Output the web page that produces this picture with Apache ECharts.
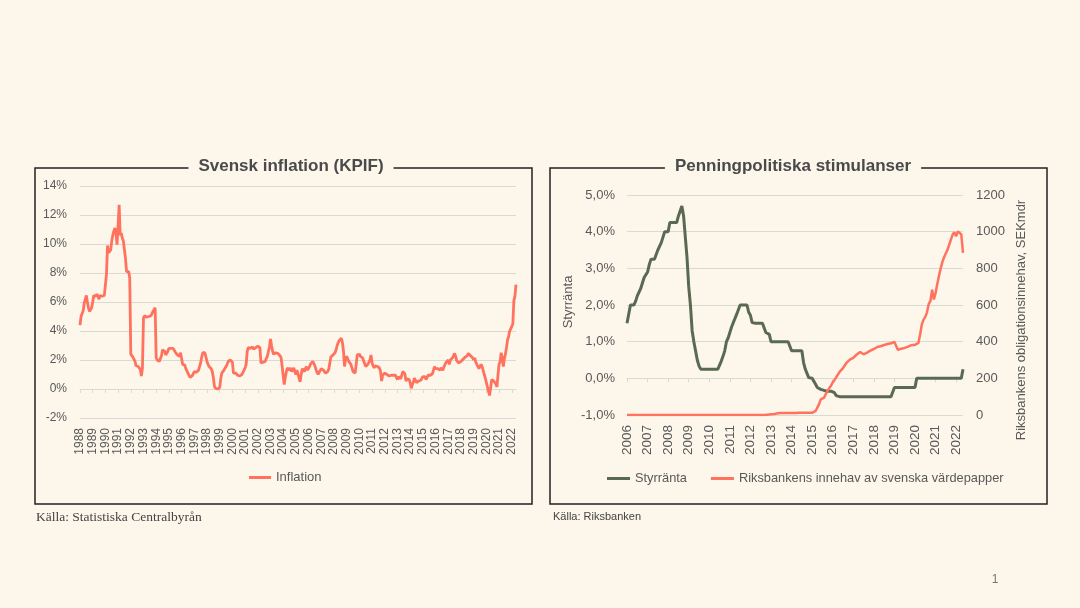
<!DOCTYPE html>
<html>
<head>
<meta charset="utf-8">
<script src="https://cdn.jsdelivr.net/npm/echarts@6/dist/echarts.min.js"></script>
<style>
html,body{margin:0;padding:0;background:#FCF6EB;}
#c{width:1080px;height:608px;}
</style>
</head>
<body>
<div id="c"></div>
<script>
// ---------- Left chart: Svensk inflation (KPIF), monthly from Jan 1988 ----------
const inflationStartYear = 1988;
const inflationMonthly = [
  4.4, 5.0, 5.2, 5.4, 5.9, 6.2, 6.45, 6.0, 5.6, 5.35, 5.45, 5.6,        // 1988
  6.0, 6.45, 6.4, 6.4, 6.55, 6.6, 6.2, 6.45, 6.4, 6.4, 6.4, 6.45,       // 1989
  6.5, 7.9, 9.9, 9.4, 9.5, 9.6, 10.2, 10.6, 10.9, 11.1, 10.75, 9.95,    // 1990
  11.3, 12.7, 10.6, 10.75, 10.4, 10.2, 10.1, 9.0, 8.1, 8.0, 8.1, 7.65,  // 1991
  2.4, 2.35, 2.2, 2.15, 1.9, 1.6, 1.55, 1.55, 1.5, 1.35, 0.9, 1.45,     // 1992
  4.9, 5.05, 5.1, 4.95, 5.0, 5.0, 4.95, 5.05, 5.1, 5.35, 5.45, 5.6,     // 1993
  2.15, 2.0, 2.0, 1.9, 2.1, 2.3, 2.7, 2.8, 2.6, 2.35, 2.45, 2.6,        // 1994
  2.8, 2.85, 2.8, 2.85, 2.8, 2.7, 2.55, 2.45, 2.35, 2.3, 2.25, 2.5,     // 1995
  2.4, 1.7, 1.75, 1.65, 1.4, 1.3, 1.1, 1.0, 0.8, 0.75, 0.9, 0.85,       // 1996
  1.2, 1.1, 1.15, 1.1, 1.3, 1.4, 1.8, 2.2, 2.5, 2.5, 2.5, 2.4,          // 1997
  1.9, 1.7, 1.55, 1.5, 1.4, 1.2, 0.8, 0.2, 0.05, 0.1, 0.0, 0.05,        // 1998
  0.1, 0.7, 1.1, 1.2, 1.3, 1.4, 1.55, 1.7, 1.9, 1.95, 2.0, 1.95,        // 1999
  1.85, 1.1, 1.2, 1.1, 1.0, 0.95, 0.9, 0.9, 0.9, 1.0, 1.1, 1.3,         // 2000
  1.45, 1.7, 2.6, 2.85, 2.9, 2.8, 2.75, 2.9, 2.75, 2.75, 2.85, 2.9,     // 2001
  2.95, 2.9, 2.85, 1.8, 1.8, 1.85, 1.8, 1.9, 2.1, 2.25, 2.35, 2.9,      // 2002
  3.45, 3.0, 2.6, 2.4, 2.35, 2.5, 2.55, 2.45, 2.35, 2.3, 2.15, 1.6,     // 2003
  0.9, 0.3, 0.8, 1.2, 1.45, 1.35, 1.3, 1.45, 1.2, 1.3, 1.45, 1.2,       // 2004
  1.0, 1.3, 1.3, 0.75, 0.5, 1.0, 1.4, 1.4, 1.2, 1.4, 1.55, 1.3,         // 2005
  1.4, 1.55, 1.75, 1.85, 1.9, 1.8, 1.6, 1.35, 1.15, 1.0, 1.15, 1.25,    // 2006
  1.4, 1.35, 1.3, 1.2, 1.1, 1.0, 1.2, 1.35, 1.75, 2.2, 2.3, 2.35,       // 2007
  2.45, 2.5, 2.7, 3.0, 3.2, 3.35, 3.4, 3.5, 3.2, 2.6, 1.55, 2.1,        // 2008
  2.25, 2.35, 1.9, 1.8, 1.7, 1.45, 1.2, 1.15, 1.1, 1.7, 2.35, 2.45,     // 2009
  2.4, 2.25, 2.2, 2.15, 1.95, 1.85, 1.55, 1.6, 1.7, 1.85, 2.0, 2.35,    // 2010
  1.8, 1.6, 1.45, 1.6, 1.7, 1.55, 1.5, 1.45, 1.2, 0.55, 0.95, 1.05,     // 2011
  1.1, 1.1, 1.0, 1.0, 0.9, 0.95, 0.95, 1.0, 0.95, 0.85, 0.95, 1.0,      // 2012
  0.65, 0.85, 0.9, 0.7, 0.65, 1.2, 1.1, 1.05, 0.55, 0.7, 0.75, 0.65,    // 2013
  0.45, 0.05, 0.3, 0.45, 0.75, 0.6, 0.45, 0.5, 0.55, 0.65, 0.6, 0.55,   // 2014
  0.85, 0.9, 0.85, 0.65, 0.8, 0.95, 1.0, 0.95, 0.9, 1.05, 1.1, 1.55,    // 2015
  1.4, 1.3, 1.4, 1.45, 1.3, 1.45, 1.4, 1.3, 1.55, 1.55, 1.85, 1.9,      // 2016
  2.0, 1.7, 2.0, 2.0, 2.15, 2.3, 2.45, 2.25, 1.95, 1.85, 1.8, 1.9,      // 2017
  1.9, 2.0, 2.05, 2.05, 2.2, 2.25, 2.3, 2.45, 2.5, 2.3, 2.2, 2.15,      // 2018
  2.0, 2.15, 1.85, 1.7, 1.55, 1.4, 1.4, 1.7, 1.55, 1.45, 1.0, 0.75,     // 2019
  0.45, 0.15, 0.05, -0.45, 0.05, 0.65, 0.6, 0.55, 0.45, 0.35, 0.15, 1.0, // 2020
  1.7, 1.9, 2.5, 2.1, 1.55, 2.1, 2.4, 2.85, 3.4, 3.6, 4.0, 4.15,        // 2021
  4.3, 4.5, 6.1, 6.4, 7.2                                              // 2022
];
const inflationYearLabels = [1988,1989,1990,1991,1992,1993,1994,1995,1996,1997,1998,1999,2000,2001,2002,2003,2004,2005,2006,2007,2008,2009,2010,2011,2012,2013,2014,2015,2016,2017,2018,2019,2020,2021,2022];

// ---------- Right chart: Penningpolitiska stimulanser, monthly from Jan 2006 ----------
const policyStartYear = 2006;
const repoRateMonthly = [
  1.5, 1.75, 2.0, 2.0, 2.0, 2.1, 2.25, 2.25, 2.45, 2.5, 2.75, 2.8,      // 2006
  2.9, 3.1, 3.25, 3.25, 3.25, 3.3, 3.5, 3.55, 3.7, 3.75, 4.0, 4.0,      // 2007
  4.0, 4.25, 4.25, 4.25, 4.25, 4.25, 4.43, 4.45, 4.7, 4.43, 4.43, 3.3,  // 2008
  2.5, 2.0, 1.3, 1.0, 0.75, 0.5, 0.34, 0.25, 0.25, 0.25, 0.25, 0.25,    // 2009
  0.25, 0.25, 0.25, 0.25, 0.25, 0.25, 0.25, 0.47, 0.6, 0.75, 1.0, 1.1,  // 2010
  1.25, 1.4, 1.52, 1.52, 1.75, 1.75, 2.0, 2.0, 2.0, 2.0, 2.0, 1.8,      // 2011
  1.72, 1.52, 1.5, 1.5, 1.5, 1.5, 1.5, 1.5, 1.5, 1.25, 1.25, 1.2,       // 2012
  1.0, 1.0, 1.0, 1.0, 1.0, 1.0, 1.0, 1.0, 1.0, 1.0, 1.0, 1.0,           // 2013
  0.75, 0.75, 0.75, 0.75, 0.75, 0.75, 0.75, 0.43, 0.25, 0.25, 0.02, 0.0, // 2014
  0.0, -0.05, -0.16, -0.25, -0.28, -0.3, -0.3, -0.33, -0.35, -0.35, -0.35, -0.35, // 2015
  -0.35, -0.39, -0.47, -0.5, -0.5, -0.5, -0.5, -0.5, -0.5, -0.5, -0.5, -0.5,     // 2016
  -0.5, -0.5, -0.5, -0.5, -0.5, -0.5, -0.5, -0.5, -0.5, -0.5, -0.5, -0.5,        // 2017
  -0.5, -0.5, -0.5, -0.5, -0.5, -0.5, -0.5, -0.5, -0.5, -0.5, -0.5, -0.5,        // 2018
  -0.25, -0.25, -0.25, -0.25, -0.25, -0.25, -0.25, -0.25, -0.25, -0.25, -0.25, -0.25, // 2019
  -0.25, 0.0, 0.0, 0.0, 0.0, 0.0, 0.0, 0.0, 0.0, 0.0, 0.0, 0.0,          // 2020
  0.0, 0.0, 0.0, 0.0, 0.0, 0.0, 0.0, 0.0, 0.0, 0.0, 0.0, 0.0,            // 2021
  0.0, 0.0, 0.0, 0.0, 0.25                                               // 2022
];
const holdingsMonthly = [
  0, 0, 0, 0, 0, 0, 0, 0, 0, 0, 0, 0,             // 2006
  0, 0, 0, 0, 0, 0, 0, 0, 0, 0, 0, 0,             // 2007
  0, 0, 0, 0, 0, 0, 0, 0, 0, 0, 0, 0,             // 2008
  0, 0, 0, 0, 0, 0, 0, 0, 0, 0, 0, 0,             // 2009
  0, 0, 0, 0, 0, 0, 0, 0, 0, 0, 0, 0,             // 2010
  0, 0, 0, 0, 0, 0, 0, 0, 0, 0, 0, 0,             // 2011
  0, 0, 0, 0, 0, 0, 0, 0, 0, 1, 2, 3,             // 2012
  4, 5, 6, 8, 9, 10, 11, 11, 11, 11, 11, 11,      // 2013
  11, 11, 11, 11, 12, 12, 12, 12, 12, 12, 12, 12, // 2014
  12, 12, 22, 40, 58, 85, 90, 95, 115, 132, 147, 160,       // 2015
  178, 190, 205, 220, 235, 245, 256, 270, 284, 293, 302, 308, // 2016
  312, 322, 330, 338, 344, 351, 331, 335, 340, 346, 351, 356, // 2017
  360, 366, 371, 373, 375, 378, 382, 384, 387, 389, 391, 394, // 2018
  398, 405, 356, 359, 361, 363, 366, 369, 373, 378, 381, 384, // 2019
  383, 385, 393, 440, 495, 520, 535, 560, 605, 622, 684, 630, // 2020
  665, 715, 760, 800, 835, 862, 882, 902, 930, 958, 985, 996, // 2021
  975, 1002, 1011, 985, 884                                   // 2022
];
const policyYearLabels = [2006,2007,2008,2009,2010,2011,2012,2013,2014,2015,2016,2017,2018,2019,2020,2021,2022];

// ---------- build ----------
const BG = '#FCF6EB';
const TXT = '#595959';
const GRIDC = '#dbd9d4';
const RED = '#FF735E';
const GREEN = '#5A6A52';
const FONT = '"Liberation Sans", Arial, sans-serif';

const toXY = (arr, start) => arr.map((v, i) => [start + i / 12, v]);
const inflMax = inflationStartYear + (inflationMonthly.length - 1) / 12;
const polMax = policyStartYear + (repoRateMonthly.length - 1) / 12;

const chart = echarts.init(document.getElementById('c'), null, {renderer: 'canvas'});

const labelAxis = (grid, min, max, years, size) => ({
  gridIndex: grid, type: 'value', min: min, max: max, position: 'bottom',
  axisLine: {show: false, onZero: false}, axisTick: {show: false}, splitLine: {show: false},
  axisLabel: {customValues: years, rotate: 90, margin: 10, fontSize: size, color: TXT, fontFamily: FONT,
    formatter: v => String(Math.round(v))}
});
const zeroAxis = (grid, min, max, years, yIdx) => ({
  gridIndex: grid, type: 'value', min: min, max: max, position: 'bottom',
  axisLine: {show: true, onZero: true, onZeroAxisIndex: yIdx, lineStyle: {color: GRIDC, width: 1}},
  axisTick: {show: true, customValues: years, length: 4, lineStyle: {color: GRIDC}},
  axisLabel: {show: false}, splitLine: {show: false}
});

const option = {
  backgroundColor: BG,
  animation: false,
  textStyle: {fontFamily: FONT},
  grid: [
    {left: 80, top: 186, width: 436, height: 232},
    {left: 627, top: 195, width: 336, height: 220}
  ],
  xAxis: [
    labelAxis(0, inflationStartYear, inflMax, inflationYearLabels, 12),
    zeroAxis(0, inflationStartYear, inflMax, inflationYearLabels, 0),
    labelAxis(1, policyStartYear, polMax, policyYearLabels, 13.5),
    zeroAxis(1, policyStartYear, polMax, policyYearLabels, 1)
  ],
  yAxis: [
    {gridIndex: 0, type: 'value', min: -2, max: 14, interval: 2,
     axisLine: {show: false}, axisTick: {show: false},
     splitLine: {lineStyle: {color: GRIDC, width: 1}},
     axisLabel: {formatter: '{value}%', fontSize: 12, color: TXT, margin: 13}},
    {gridIndex: 1, type: 'value', min: -1, max: 5, interval: 1,
     axisLine: {show: false}, axisTick: {show: false},
     splitLine: {lineStyle: {color: GRIDC, width: 1}},
     axisLabel: {formatter: v => v.toFixed(1).replace('.', ',') + '%', fontSize: 13, color: TXT, margin: 12}},
    {gridIndex: 1, type: 'value', position: 'right', min: 0, max: 1200, interval: 200,
     axisLine: {show: false}, axisTick: {show: false}, splitLine: {show: false},
     axisLabel: {formatter: v => String(v), fontSize: 13, color: TXT, margin: 13}}
  ],
  legend: [
    {data: ['Inflation'], left: 249, top: 471, icon: 'rect', itemWidth: 22, itemHeight: 3,
     textStyle: {fontSize: 13, color: TXT}, padding: 0},
    {data: ['Styrränta', 'Riksbankens innehav av svenska värdepapper'], left: 607, top: 472,
     icon: 'rect', itemWidth: 23, itemHeight: 3, itemGap: 24,
     textStyle: {fontSize: 12.8, color: TXT}, padding: 0}
  ],
  series: [
    {name: 'Inflation', type: 'line', xAxisIndex: 0, yAxisIndex: 0, data: toXY(inflationMonthly, inflationStartYear),
     showSymbol: false, symbol: 'none', lineStyle: {color: RED, width: 2.8}, itemStyle: {color: RED}},
    {name: 'Styrränta', type: 'line', xAxisIndex: 2, yAxisIndex: 1, data: toXY(repoRateMonthly, policyStartYear),
     showSymbol: false, symbol: 'none', lineStyle: {color: GREEN, width: 3}, itemStyle: {color: GREEN}},
    {name: 'Riksbankens innehav av svenska värdepapper', type: 'line', xAxisIndex: 2, yAxisIndex: 2,
     data: toXY(holdingsMonthly, policyStartYear),
     showSymbol: false, symbol: 'none', lineStyle: {color: RED, width: 2.5}, itemStyle: {color: RED}}
  ],
  graphic: [
    {type: 'rect', shape: {x: 35, y: 168, width: 497, height: 336}, style: {fill: null, stroke: '#222', lineWidth: 1.5}, z: 1},
    {type: 'rect', shape: {x: 550, y: 168, width: 497, height: 336}, style: {fill: null, stroke: '#222', lineWidth: 1.5}, z: 1},
    {type: 'text', x: 291, y: 166, z: 5, style: {text: 'Svensk inflation (KPIF)', font: 'bold 17px ' + FONT, fill: '#4a4a4a',
      align: 'center', verticalAlign: 'middle', backgroundColor: BG, padding: [2, 10]}},
    {type: 'text', x: 793, y: 166, z: 5, style: {text: 'Penningpolitiska stimulanser', font: 'bold 17px ' + FONT, fill: '#4a4a4a',
      align: 'center', verticalAlign: 'middle', backgroundColor: BG, padding: [2, 10]}},
    {type: 'text', x: 568, y: 302, rotation: Math.PI / 2, z: 5, style: {text: 'Styrränta', font: '13px ' + FONT, fill: TXT,
      align: 'center', verticalAlign: 'middle'}},
    {type: 'text', x: 1021, y: 320, rotation: Math.PI / 2, z: 5, style: {text: 'Riksbankens obligationsinnehav, SEKmdr', font: '13px ' + FONT, fill: TXT,
      align: 'center', verticalAlign: 'middle'}},
    {type: 'text', x: 36, y: 517, z: 5, style: {text: 'Källa: Statistiska Centralbyrån', font: '13.5px "Liberation Serif", serif', fill: '#444',
      align: 'left', verticalAlign: 'middle'}},
    {type: 'text', x: 553, y: 517, z: 5, style: {text: 'Källa: Riksbanken', font: '11px ' + FONT, fill: '#444',
      align: 'left', verticalAlign: 'middle'}},
    {type: 'text', x: 995, y: 580, z: 5, style: {text: '1', font: '12px ' + FONT, fill: '#777',
      align: 'center', verticalAlign: 'middle'}}
  ]
};
chart.setOption(option);
</script>
</body>
</html>
